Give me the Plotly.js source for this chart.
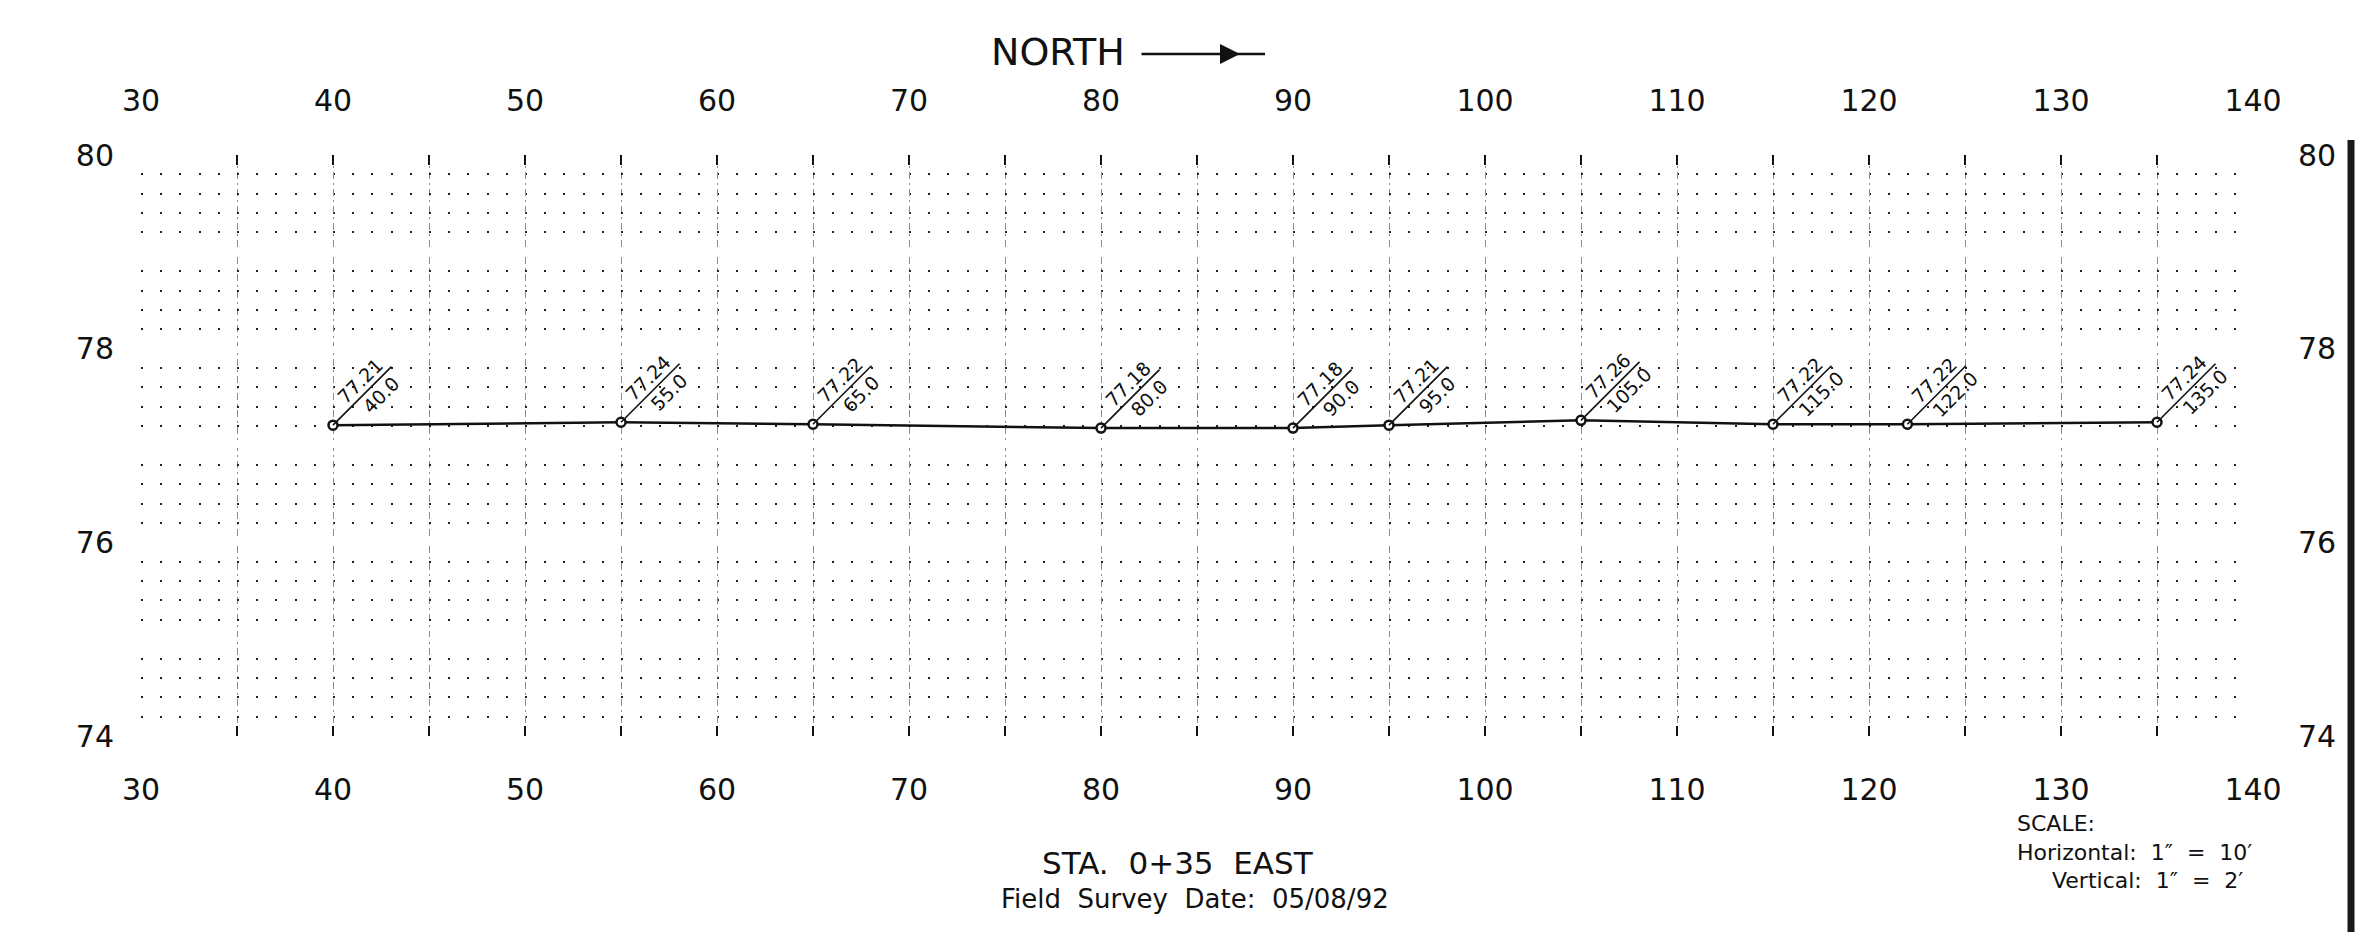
<!DOCTYPE html>
<html>
<head>
<meta charset="utf-8">
<script src="https://cdn.plot.ly/plotly-3.0.1.min.js"></script>
<style>
  html, body { margin: 0; padding: 0; background: #ffffff; }
  #chart { width: 2355px; height: 932px; }
</style>
</head>
<body>
<div id="chart"></div>
<script>
const stations   = [40, 55, 65, 80, 90, 95, 105, 115, 122, 135];
const elevations = [77.21, 77.24, 77.22, 77.18, 77.18, 77.21, 77.26, 77.22, 77.22, 77.24];
const xTickVals  = [30, 40, 50, 60, 70, 80, 90, 100, 110, 120, 130, 140];
const yTickVals  = [74, 75, 76, 77, 78, 79, 80];
const yTickText  = ['74', '', '76', '', '78', '', '80'];
const titleText  = 'STA.\u00A0 0+35\u00A0 EAST';
const subtitleText = 'Field\u00A0 Survey\u00A0 Date:\u00A0 05/08/92';
const northText  = 'NORTH';
const scaleLines = ['SCALE:',
                    'Horizontal:\u00A0 1\u2033\u00A0 =\u00A0 10\u2032',
                    '\u00A0\u00A0\u00A0\u00A0\u00A0Vertical:\u00A0 1\u2033\u00A0 =\u00A0 2\u2032'];

const FONT = 'DejaVu Sans, Roboto, sans-serif';
const INK = '#111111';

// plot-area geometry (pixels)
const W = 2355, H = 932;
const M = { l: 141, r: 102, t: 155, b: 196, pad: 0 };
const PW = W - M.l - M.r;   // 2112
const PH = H - M.t - M.b;   // 581
const pxX = (px) => (px - M.l) / PW;          // pixel -> paper x
const pxY = (py) => (H - M.b - py) / PH;      // pixel -> paper y

const xRange = [30, 140];
const yRange = [74, 80];
const unitPx = PW / (xRange[1] - xRange[0]);  // pixels per horizontal unit

const GRIDDASH = '7px,4px,2px,4px';
const commonX = {
  range: xRange,
  tickmode: 'array',
  tickvals: xTickVals,
  ticks: 'inside',
  ticklen: 10,
  tickwidth: 2,
  tickcolor: INK,
  showline: false,
  zeroline: false,
  tickfont: { family: FONT, size: 30, color: INK },
  fixedrange: true
};

const layout = {
  width: W, height: H,
  margin: M,
  paper_bgcolor: '#ffffff',
  plot_bgcolor: '#ffffff',
  showlegend: false,
  font: { family: FONT, color: INK },
  xaxis: Object.assign({}, commonX, {
    side: 'bottom',
    ticklabelstandoff: 33,
    showgrid: true, gridcolor: '#8a8a8a', gridwidth: 1, griddash: GRIDDASH,
    minor: { dtick: 5, tick0: 0, ticks: 'inside', ticklen: 10, tickwidth: 2, tickcolor: INK,
             showgrid: true, gridcolor: '#8a8a8a', gridwidth: 1, griddash: GRIDDASH }
  }),
  xaxis2: Object.assign({}, commonX, {
    side: 'top', overlaying: 'x', matches: 'x', anchor: 'y',
    ticklabelstandoff: 37,
    showgrid: false,
    minor: { dtick: 5, tick0: 0, ticks: 'inside', ticklen: 10, tickwidth: 2, tickcolor: INK, showgrid: false }
  }),
  yaxis: {
    range: yRange,
    tickmode: 'array',
    tickvals: yTickVals,
    ticktext: yTickText,
    ticks: '',
    // whole-foot rows are left blank in the dot grid
    showgrid: true, gridcolor: '#ffffff', gridwidth: 5,
    showline: false,
    zeroline: false,
    tickfont: { family: FONT, size: 30, color: INK },
    ticklabelstandoff: 26,
    minor: { dtick: 0.2, tick0: 74, ticks: '', showgrid: true, gridcolor: '#222222', gridwidth: 2,
             griddash: '2px,' + (unitPx - 2).toFixed(2) + 'px' },
    fixedrange: true
  },
  yaxis2: {
    range: yRange,
    overlaying: 'y', matches: 'y', side: 'right', anchor: 'x',
    tickmode: 'array',
    tickvals: yTickVals,
    ticktext: yTickText,
    ticks: '',
    showgrid: false, showline: false, zeroline: false,
    tickfont: { family: FONT, size: 30, color: INK },
    ticklabelstandoff: 44,
    fixedrange: true
  },
  annotations: [],
  shapes: [
    // scanned-sheet border on the right edge
    { type: 'line', xref: 'paper', yref: 'paper', x0: pxX(2351), x1: pxX(2351), y0: pxY(140), y1: pxY(932),
      line: { color: '#1a1a1a', width: 7 } }
  ]
};

// point labels: leader line, elevation above, station below (rotated 45°)
const LEAD = 60;
stations.forEach((s, i) => {
  layout.annotations.push({
    x: s, y: elevations[i], xref: 'x', yref: 'y',
    text: '', showarrow: true, arrowhead: 0, arrowwidth: 1.6, arrowcolor: INK,
    ax: LEAD, ay: -LEAD, standoff: 0, startstandoff: 0
  });
  layout.annotations.push({
    x: s, y: elevations[i], xref: 'x', yref: 'y',
    text: elevations[i].toFixed(2), showarrow: false, textangle: -45,
    xanchor: 'center', yanchor: 'middle', xshift: 27, yshift: 44,
    font: { family: FONT, size: 19, color: INK }
  });
  layout.annotations.push({
    x: s, y: elevations[i], xref: 'x', yref: 'y',
    text: s.toFixed(1), showarrow: false, textangle: -45,
    xanchor: 'center', yanchor: 'middle', xshift: 48, yshift: 30,
    font: { family: FONT, size: 19, color: INK }
  });
});

// NORTH arrow
layout.annotations.push({
  xref: 'paper', yref: 'paper', x: pxX(1058), y: pxY(52),
  text: northText, showarrow: false, xanchor: 'center', yanchor: 'middle',
  font: { family: FONT, size: 38, color: INK }
});
layout.annotations.push({
  xref: 'paper', yref: 'paper', x: pxX(1240), y: pxY(54),
  text: '', showarrow: true, arrowhead: 2, arrowsize: 1.6, arrowwidth: 2.5, arrowcolor: INK,
  ax: -100, ay: 0, standoff: 0
});
layout.annotations.push({
  xref: 'paper', yref: 'paper', x: pxX(1265), y: pxY(54),
  text: '', showarrow: true, arrowhead: 0, arrowwidth: 2.5, arrowcolor: INK,
  ax: -30, ay: 0, standoff: 0
});

// titles under the chart
layout.annotations.push({
  xref: 'paper', yref: 'paper', x: pxX(1178), y: pxY(863),
  text: titleText, showarrow: false, xanchor: 'center', yanchor: 'middle',
  font: { family: FONT, size: 31, color: INK }
});
layout.annotations.push({
  xref: 'paper', yref: 'paper', x: pxX(1195), y: pxY(899),
  text: subtitleText, showarrow: false, xanchor: 'center', yanchor: 'middle',
  font: { family: FONT, size: 26, color: INK }
});

// scale block (one multi-line text)
layout.annotations.push({
  xref: 'paper', yref: 'paper', x: pxX(2015), y: pxY(852),
  text: scaleLines.join('<br>'), showarrow: false, xanchor: 'left', yanchor: 'middle', align: 'left',
  font: { family: FONT, size: 22, color: INK }
});

const traces = [
  {
    x: stations, y: elevations, xaxis: 'x', yaxis: 'y',
    type: 'scatter', mode: 'lines+markers',
    line: { color: INK, width: 2.5 },
    marker: { symbol: 'circle', size: 9, color: '#ffffff', line: { color: INK, width: 2.5 } },
    hoverinfo: 'skip'
  },
  {
    x: stations, y: elevations, xaxis: 'x2', yaxis: 'y2',
    type: 'scatter', mode: 'lines', opacity: 0,
    line: { color: INK, width: 1 }, hoverinfo: 'skip'
  }
];

Plotly.newPlot('chart', traces, layout, { displayModeBar: false, staticPlot: true });
</script>
</body>
</html>
